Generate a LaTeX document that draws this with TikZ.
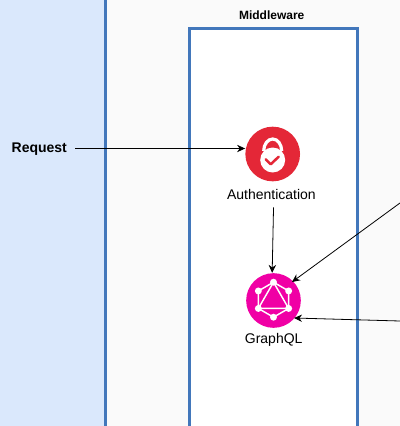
\documentclass[tikz,border=0pt]{standalone}
\usepackage{fontspec}
\setmainfont{Liberation Sans}
\usetikzlibrary{arrows.meta, positioning, calc}
\definecolor{panelblue}{HTML}{DAE8FC}
\definecolor{panelline}{HTML}{4277BB}
\definecolor{backgrey}{HTML}{FAFAFA}
\definecolor{authred}{HTML}{E42737}
\definecolor{graphpink}{HTML}{F000A5}

\begin{document}
\begin{tikzpicture}[x=0.75pt, y=-0.75pt,
    panel/.style={draw=panelline, line width=2.25pt},
    icon/.style={circle, minimum size=41pt, inner sep=0pt},
    caption/.style={font=\fontsize{10.5pt}{12pt}\selectfont, inner sep=0pt},
    flow/.style={-{Stealth[length=6pt, width=5.5pt]}, line width=0.6pt},
    dot/.style={circle, fill=white, minimum size=5.2pt, inner sep=0pt}]
  \useasboundingbox (0,0) rectangle (400,426);
  \fill[backgrey] (0,0) rectangle (400,426);

  % panels
  \fill[panelblue] (0,0) rectangle (105,426);
  \draw[panel] (105,0) -- (105,426);
  \fill[white] (189.5,28.5) rectangle (357.5,426);
  \draw[panel] (189.5,426) -- (189.5,28.5) -- (357.5,28.5) -- (357.5,426);
  \node[font=\bfseries\fontsize{9pt}{11pt}\selectfont, inner sep=0pt] (middleware) at (271.7,15) {Middleware};

  % nodes
  \node[font=\bfseries\fontsize{10.5pt}{12pt}\selectfont, inner xsep=6pt, inner ysep=0pt] (request) at (39.3,149.5) {Request};
  \node[icon, fill=authred] (auth) at (272.7,154) {};
  \node[caption] (authlabel) at (271.4,194) {Authentication};
  \node[icon, fill=graphpink] (graphql) at (273.5,300.5) {};
  \node[caption] (graphlabel) at (273.7,340) {GraphQL};
  \coordinate (upper) at (400,203);
  \coordinate (lower) at (400,321);

  % lock
  \begin{scope}[shift={(auth.center)}]
    \draw[white, line width=2.4pt] (-9,-3) arc (180:360:9 and 12);
    \fill[white] (0,6) circle (12.5);
    \draw[authred, line width=1.9pt, line cap=round, line join=round] (-7,5.3) -- (-2,10.3) -- (6,2.7);
  \end{scope}

  % graph
  \begin{scope}[shift={(graphql.center)}]
    \foreach \i/\a in {0/-90, 1/-30, 2/30, 3/90, 4/150, 5/210} {
      \node[dot] (hex\i) at ($(0,-0.8)+(\a:17.5)$) {};
    }
    \draw[white, line width=1.1pt] (hex0.center) -- (hex1.center) -- (hex2.center) -- (hex3.center) -- (hex4.center) -- (hex5.center) -- cycle;
    \draw[white, line width=1.1pt] (hex0.center) -- (hex2.center) -- (hex4.center) -- cycle;
  \end{scope}

  % arrows
  \draw[flow] ([yshift=0.75pt]request.east) -- ([yshift=0.75pt]request.east -| auth.west);
  \draw[flow] ([xshift=1.6pt,yshift=-6pt]authlabel.south) -- ([xshift=-1pt]graphql.north);
  \draw[flow] (upper) -- (292,282);
  \draw[flow] (lower) -- (294,318);
\end{tikzpicture}
\end{document}
